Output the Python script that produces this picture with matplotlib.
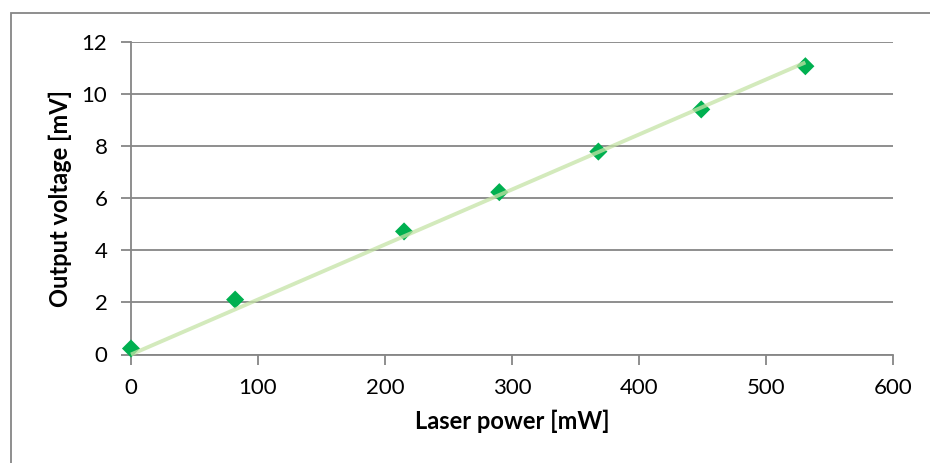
import numpy as np
import matplotlib.pyplot as plt
from matplotlib.patches import Rectangle

# measured points
laser_power = [0, 82, 215, 290, 368, 449, 531]
output_voltage = [0.23, 2.11, 4.73, 6.24, 7.80, 9.42, 11.08]

x_ticks = [0, 100, 200, 300, 400, 500, 600]
y_ticks = [0, 2, 4, 6, 8, 10, 12]

plt.rcParams['font.family'] = ['Lato', 'DejaVu Sans']

fig = plt.figure(figsize=(9.3, 4.63), dpi=100)
W, H = 930, 463
ax = fig.add_axes([131 / W, 1 - 354.5 / H, (893 - 131) / W, (354.5 - 42.3) / H])

# outer chart border
fig.patches.append(Rectangle((10.5 / W, -0.1), 1.2, 1 - 13 / H + 0.1,
                             transform=fig.transFigure, fill=False,
                             edgecolor='#868686', linewidth=1.3))

ax.scatter(laser_power, output_voltage, marker='D', s=85, color='#00B050',
           edgecolors='none', zorder=3, clip_on=False)

# linear trend line through origin
p = np.array(laser_power, dtype=float)
v = np.array(output_voltage)
slope = (p * v).sum() / (p * p).sum()
xs = np.array([0, p.max()])
ax.plot(xs, slope * xs, color='#C5E3A6', alpha=0.75, linewidth=2.8, zorder=4,
        solid_capstyle='butt', clip_on=False)

ax.set_xlim(0, 600)
ax.set_ylim(0, 12)
ax.set_xticks(x_ticks)
ax.set_yticks(y_ticks)
ax.grid(axis='y', color='#868686', linewidth=1.3)
ax.set_axisbelow(True)

for s in ['top', 'right']:
    ax.spines[s].set_visible(False)
for s in ['left', 'bottom']:
    ax.spines[s].set_color('#868686')
    ax.spines[s].set_linewidth(1.3)
ax.tick_params(colors='#868686', width=1.3, length=7, labelsize=16,
               labelcolor='black')
ax.tick_params(axis='x', pad=10)
ax.tick_params(axis='y', pad=10)

ax.set_xlabel('Laser power [mW]', fontsize=17, fontweight='bold', labelpad=8)
ax.set_ylabel('Output voltage [mV]', fontsize=17, fontweight='bold', labelpad=7)

fig.savefig('out.png', dpi=100)
